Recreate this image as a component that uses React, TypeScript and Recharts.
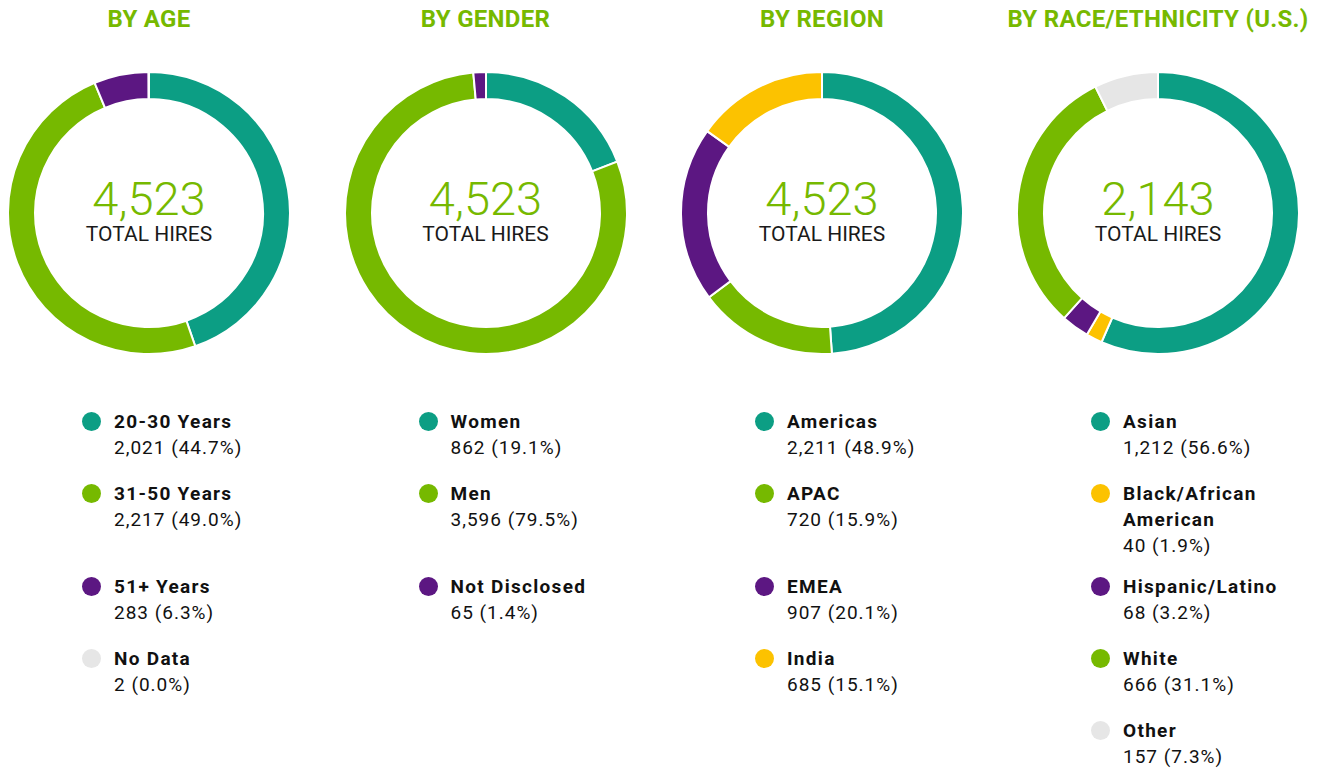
import React from 'react';
import { PieChart, Pie, Cell } from 'recharts';

const TEAL = '#0c9e84';
const GREEN = '#76b900';
const PURPLE = '#5c1782';
const YELLOW = '#fcc200';
const GRAY = '#e6e6e6';

const ageLabels = ['20-30 Years', '31-50 Years', '51+ Years', 'No Data'];
const ageValues = [2021, 2217, 283, 2];
const ageColors = [TEAL, GREEN, PURPLE, GRAY];
const ageRows = [0, 1, 2, 3];

const genderLabels = ['Women', 'Men', 'Not Disclosed'];
const genderValues = [862, 3596, 65];
const genderColors = [TEAL, GREEN, PURPLE];
const genderRows = [0, 1, 2];

const regionLabels = ['Americas', 'APAC', 'EMEA', 'India'];
const regionValues = [2211, 720, 907, 685];
const regionColors = [TEAL, GREEN, PURPLE, YELLOW];
const regionRows = [0, 1, 2, 3];

const raceLabels = ['Asian', 'Black/African American', 'Hispanic/Latino', 'White', 'Other'];
const raceValues = [1212, 40, 68, 666, 157];
const raceColors = [TEAL, YELLOW, PURPLE, GREEN, GRAY];
const raceRows = [0, 1, 2, 3, 4];

const titles = ['BY AGE', 'BY GENDER', 'BY REGION', 'BY RACE/ETHNICITY (U.S.)'];

// baseline of the first legend line for each row slot
const rowBaselines = [428, 500, 593, 665, 737];
const FONT = 'Roboto, "Noto Sans", sans-serif';
const CY = 213;

interface DonutProps {
  cx: number;
  title: string;
  labels: string[];
  values: number[];
  colors: string[];
  rows: number[];
}

const fmt = (n: number) => n.toLocaleString('en-US');

const Donut: React.FC<DonutProps> = ({ cx, title, labels, values, colors, rows }) => {
  const total = values.reduce((a, b) => a + b, 0);
  const data = labels.map((name, i) => ({ name, value: values[i] }));
  return (
    <>
      <div
        style={{
          position: 'absolute', left: cx - 200, top: 7, width: 400, textAlign: 'center',
          fontSize: 24, lineHeight: '24px', fontWeight: 700, color: GREEN, letterSpacing: 0.3
        }}
      >
        {title}
      </div>
      <div style={{ position: 'absolute', left: cx - 150, top: CY - 150 }}>
        <PieChart width={300} height={300} margin={{ top: 0, right: 0, bottom: 0, left: 0 }}>
          <Pie
            data={data}
            dataKey="value"
            nameKey="name"
            cx="50%"
            cy="50%"
            innerRadius={114}
            outerRadius={141}
            startAngle={90}
            endAngle={-270}
            stroke="#fff"
            strokeWidth={2}
            isAnimationActive={false}
          >
            {data.map((d, i) => (
              <Cell key={d.name} fill={colors[i]} />
            ))}
          </Pie>
        </PieChart>
      </div>
      <div
        style={{
          position: 'absolute', left: cx - 150, top: 179, width: 300, textAlign: 'center',
          fontSize: 47, lineHeight: '40px', fontWeight: 300, color: GREEN
        }}
      >
        {fmt(total)}
      </div>
      <div
        style={{
          position: 'absolute', left: cx - 150, top: 225, width: 300, textAlign: 'center',
          fontSize: 21, lineHeight: '18px', fontWeight: 400, color: '#1a1a1a'
        }}
      >
        TOTAL HIRES
      </div>
      {labels.map((name, i) => {
        const base = rowBaselines[rows[i]];
        const pct = ((values[i] / total) * 100).toFixed(1);
        return (
          <React.Fragment key={name}>
            <div
              style={{
                position: 'absolute', left: cx - 67, top: base - 16, width: 19, height: 19,
                borderRadius: '50%', background: colors[i]
              }}
            />
            <div
              style={{
                position: 'absolute', left: cx - 35, top: base - 19.5, width: 175,
                fontSize: 19, lineHeight: '26px', color: '#111'
              }}
            >
              <div style={{ fontWeight: 700, letterSpacing: 1.3 }}>{name}</div>
              <div style={{ fontWeight: 400, letterSpacing: 1.0 }}>{`${fmt(values[i])} (${pct}%)`}</div>
            </div>
          </React.Fragment>
        );
      })}
    </>
  );
};

export default function App() {
  const centers = [149, 485.5, 822, 1158];
  return (
    <div
      style={{
        position: 'absolute', left: 0, top: 0, width: 1318, height: 768,
        background: '#fff', fontFamily: FONT, overflow: 'hidden'
      }}
    >
      <Donut cx={centers[0]} title={titles[0]} labels={ageLabels} values={ageValues} colors={ageColors} rows={ageRows} />
      <Donut cx={centers[1]} title={titles[1]} labels={genderLabels} values={genderValues} colors={genderColors} rows={genderRows} />
      <Donut cx={centers[2]} title={titles[2]} labels={regionLabels} values={regionValues} colors={regionColors} rows={regionRows} />
      <Donut cx={centers[3]} title={titles[3]} labels={raceLabels} values={raceValues} colors={raceColors} rows={raceRows} />
    </div>
  );
}
